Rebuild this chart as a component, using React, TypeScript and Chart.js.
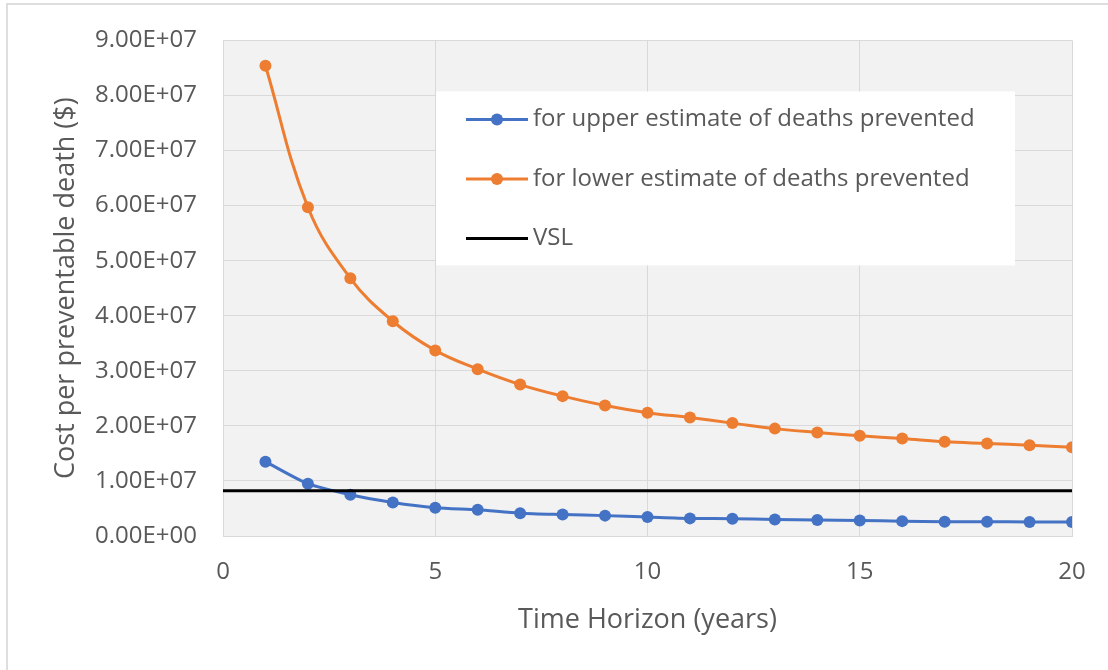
import React, { useEffect, useRef } from "react";
import { Chart, registerables } from "chart.js";

Chart.register(...registerables);

// ---- data ----
const years = [1, 2, 3, 4, 5, 6, 7, 8, 9, 10, 11, 12, 13, 14, 15, 16, 17, 18, 19, 20];
const upperEstimate = [
  1.35e7, 0.95e7, 0.75e7, 0.61e7, 0.515e7, 0.475e7, 0.415e7, 0.39e7, 0.37e7, 0.345e7,
  0.32e7, 0.315e7, 0.3e7, 0.29e7, 0.28e7, 0.27e7, 0.26e7, 0.26e7, 0.255e7, 0.255e7,
];
const lowerEstimate = [
  8.54e7, 5.97e7, 4.68e7, 3.9e7, 3.37e7, 3.03e7, 2.75e7, 2.54e7, 2.37e7, 2.24e7,
  2.15e7, 2.05e7, 1.95e7, 1.88e7, 1.82e7, 1.77e7, 1.71e7, 1.68e7, 1.65e7, 1.61e7,
];
const vslValue = 8.2e6;
const vslRange = [0, 20];
const seriesLabels = [
  "for upper estimate of deaths prevented",
  "for lower estimate of deaths prevented",
  "VSL",
];
const xAxisTitle = "Time Horizon (years)";
const yAxisTitle = "Cost per preventable death ($)";
const xMin = 0;
const xMax = 20;
const xStep = 5;
const yMin = 0;
const yMax = 9e7;
const yStep = 1e7;

const FONT = "'Open Sans', 'Noto Sans', sans-serif";
const TEXT = "#595959";
const BLUE = "#4472C4";
const ORANGE = "#ED7D31";

function fmtExp(v: number): string {
  const s = Number(v).toExponential(2).toUpperCase();
  return s.replace(/E([+-])(\d)$/, "E$10$2");
}

const plotBg = {
  id: "plotBg",
  beforeDraw(chart: any) {
    const { ctx, chartArea } = chart;
    ctx.save();
    ctx.fillStyle = "#ffffff";
    ctx.fillRect(0, 0, chart.width, chart.height);
    ctx.fillStyle = "#f2f2f2";
    ctx.fillRect(chartArea.left, chartArea.top, chartArea.right - chartArea.left, chartArea.bottom - chartArea.top);
    // outer frame (left & top edges)
    ctx.strokeStyle = "#dedede";
    ctx.lineWidth = 2;
    ctx.beginPath();
    ctx.moveTo(7, chart.height);
    ctx.lineTo(7, 4);
    ctx.lineTo(chart.width, 4);
    ctx.stroke();
    ctx.restore();
  },
};

const insideLegend = {
  id: "insideLegend",
  beforeDatasetsDraw(chart: any) {
    const { ctx, chartArea } = chart;
    const bx = chartArea.left + 213;
    const by = chartArea.top + 51;
    const bw = 579;
    const bh = 174;
    ctx.save();
    ctx.fillStyle = "#ffffff";
    ctx.fillRect(bx, by, bw, bh);
    chart.data.datasets.forEach((ds: any, i: number) => {
      const cy = by + 28 + i * 59.5;
      const x0 = bx + 30;
      const x1 = bx + 92;
      ctx.strokeStyle = ds.borderColor;
      ctx.lineWidth = ds.borderWidth;
      ctx.beginPath();
      ctx.moveTo(x0, cy);
      ctx.lineTo(x1, cy);
      ctx.stroke();
      if (ds.pointRadius > 0) {
        ctx.fillStyle = ds.pointBackgroundColor;
        ctx.beginPath();
        ctx.arc((x0 + x1) / 2, cy, ds.pointRadius, 0, Math.PI * 2);
        ctx.fill();
      }
      ctx.fillStyle = TEXT;
      ctx.font = `24px ${FONT}`;
      ctx.textBaseline = "middle";
      ctx.textAlign = "left";
      ctx.fillText(ds.label, x1 + 5, cy);
    });
    ctx.restore();
  },
};

export default function App() {
  const ref = useRef<HTMLCanvasElement | null>(null);

  useEffect(() => {
    if (!ref.current) return;
    const chart = new Chart(ref.current, {
      type: "line",
      data: {
        datasets: [
          {
            label: seriesLabels[0],
            data: years.map((x, i) => ({ x, y: upperEstimate[i] })),
            borderColor: BLUE,
            backgroundColor: BLUE,
            pointBackgroundColor: BLUE,
            pointBorderColor: BLUE,
            borderWidth: 3,
            pointRadius: 6,
            pointBorderWidth: 0,
            tension: 0.25,
            order: 2,
          },
          {
            label: seriesLabels[1],
            data: years.map((x, i) => ({ x, y: lowerEstimate[i] })),
            borderColor: ORANGE,
            backgroundColor: ORANGE,
            pointBackgroundColor: ORANGE,
            pointBorderColor: ORANGE,
            borderWidth: 3,
            pointRadius: 6,
            pointBorderWidth: 0,
            tension: 0.4,
            order: 1,
          },
          {
            label: seriesLabels[2],
            data: vslRange.map((x) => ({ x, y: vslValue })),
            borderColor: "#000000",
            backgroundColor: "#000000",
            pointBackgroundColor: "#000000",
            borderWidth: 3,
            pointRadius: 0,
            tension: 0,
            order: 0,
          },
        ],
      },
      options: {
        responsive: false,
        animation: false,
        devicePixelRatio: 1,
        layout: { padding: { left: 0, top: 40, right: 36, bottom: 0 } },
        plugins: {
          legend: { display: false },
          tooltip: { enabled: false },
        },
        scales: {
          x: {
            type: "linear",
            min: xMin,
            max: xMax,
            ticks: {
              stepSize: xStep,
              color: TEXT,
              font: { family: FONT, size: 24 },
              padding: 22,
            },
            grid: { color: "#d9d9d9", drawTicks: false, lineWidth: 1 },
            border: { display: true, color: "#d9d9d9" },
            title: {
              display: true,
              text: xAxisTitle,
              color: TEXT,
              font: { family: FONT, size: 27 },
              padding: { top: 0, bottom: 33 },
            },
            afterFit: (s: any) => {
              s.height = 134;
            },
          },
          y: {
            type: "linear",
            min: yMin,
            max: yMax,
            ticks: {
              stepSize: yStep,
              color: TEXT,
              font: { family: FONT, size: 24 },
              padding: 26,
              callback: (v: any) => fmtExp(Number(v)),
            },
            grid: { color: "#d9d9d9", drawTicks: false, lineWidth: 1 },
            border: { display: true, color: "#d9d9d9" },
            title: {
              display: true,
              text: yAxisTitle,
              color: TEXT,
              font: { family: FONT, size: 27 },
              padding: { top: 50, bottom: 0 },
            },
            afterFit: (s: any) => {
              s.width = 223;
            },
          },
        },
      },
      plugins: [plotBg, insideLegend],
    });
    return () => chart.destroy();
  }, []);

  return (
    <div style={{ position: "fixed", left: 0, top: 0, width: 1108, height: 670, background: "#fff" }}>
      <canvas ref={ref} width={1108} height={670} style={{ display: "block" }} />
    </div>
  );
}
